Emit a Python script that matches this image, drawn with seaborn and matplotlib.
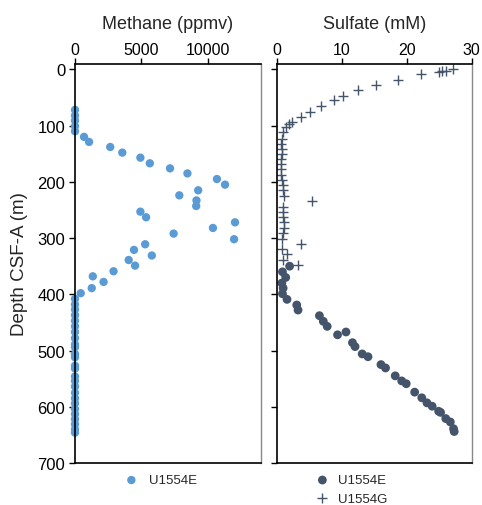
import pandas as pd
import matplotlib
matplotlib.use("Agg")
import matplotlib.pyplot as plt
import seaborn as sns

# methane, hole U1554E
ch4_depth = [72, 82, 91, 101, 110, 120, 129, 138, 148, 157, 167, 176, 185, 195, 205,
             215, 224, 233, 243, 253, 263, 272, 282, 292, 302, 311, 321, 331, 339, 349,
             359, 368, 378, 389, 398,
             408, 418, 427, 437, 447, 457, 467, 478, 489, 494, 506, 512, 527, 532, 546,
             554, 564, 575, 585, 594, 604, 613, 622, 631, 640, 646]
ch4_ppmv = [0, 0, 0, 0, 0, 680, 1060, 2650, 3560, 4920, 5630, 7150, 8460, 10680, 11290,
            9270, 7850, 9140, 9120, 4920, 5350, 12040, 10380, 7420, 11970, 5280, 4440, 5780, 4040, 4520,
            2900, 1340, 2150, 1260, 430,
            0, 0, 0, 0, 0, 0, 0, 0, 0, 0, 0, 0, 0, 0, 0,
            0, 0, 0, 0, 0, 0, 0, 0, 0, 0, 0]

# sulfate, hole U1554E (circles)
so4_e_depth = [350, 360, 370, 380, 389, 399, 409, 419, 428, 438, 448, 457, 467, 472, 486,
               493, 506, 511, 525, 531, 545, 554, 559, 574, 584, 593, 599, 608, 610, 621,
               627, 639, 644]
so4_e_mm = [1.9, 0.8, 1.3, 0.7, 0.9, 0.8, 1.5, 3.0, 3.2, 6.5, 7.1, 7.7, 10.6, 9.3, 11.6,
            12.0, 13.1, 14.0, 16.0, 16.7, 18.2, 19.2, 19.9, 21.2, 22.3, 23.1, 23.9, 24.9, 25.2, 26.0,
            26.7, 27.2, 27.3]

# sulfate, hole U1554G (crosses)
so4_g_depth = [0, 2, 3, 4, 8, 18, 28, 37, 47, 54, 65, 75, 84, 94, 98,
               103, 112, 123, 132, 141, 150, 160, 169, 178, 187, 197, 206, 215, 225, 234,
               244, 254, 263, 272, 282, 291, 301, 310, 319, 328, 339, 348]
so4_g_mm = [27.1, 26.1, 25.4, 25.0, 22.2, 18.6, 15.2, 12.5, 10.2, 8.75, 6.8, 5.1, 3.6, 2.2, 1.8,
            1.4, 0.93, 0.67, 0.57, 0.67, 0.77, 0.57, 0.57, 0.57, 0.62, 0.72, 0.88, 0.93, 1.03, 5.3,
            0.82, 0.82, 0.93, 1.03, 1.08, 0.93, 0.77, 3.7, 0.67, 1.54, 0.82, 3.14]

blue = "#5B9BD5"
slate = "#44546A"

sns.set_style("ticks")
plt.rcParams["font.family"] = ["Liberation Sans", "DejaVu Sans"]

ch4 = pd.DataFrame({"depth": ch4_depth, "ch4": ch4_ppmv})
so4e = pd.DataFrame({"depth": so4_e_depth, "so4": so4_e_mm})
so4g = pd.DataFrame({"depth": so4_g_depth, "so4": so4_g_mm})

fig = plt.figure(figsize=(4.82, 5.06), dpi=100)
ax1 = fig.add_axes([0.1556, 0.083, 0.386, 0.789])
ax2 = fig.add_axes([0.5753, 0.083, 0.4033, 0.789])

sns.scatterplot(data=ch4, x="ch4", y="depth", ax=ax1, color=blue, s=36,
                edgecolor="none", label="U1554E", clip_on=False)
sns.scatterplot(data=so4e, x="so4", y="depth", ax=ax2, color=slate, s=40,
                edgecolor="none", label="U1554E")
sns.scatterplot(data=so4g, x="so4", y="depth", ax=ax2, color=slate, marker="+",
                s=45, linewidth=1.0, label="U1554G")

for ax in (ax1, ax2):
    ax.set_ylim(700, -10)
    ax.set_yticks(range(0, 701, 100))
    ax.xaxis.set_label_position("top")
    ax.xaxis.tick_top()
    ax.tick_params(axis="both", direction="out", length=4, width=1,
                   colors="black", pad=3)
    ax.tick_params(axis="x", labelsize=11.5, pad=1)
    ax.tick_params(axis="y", labelsize=12)
    for side in ("top", "left", "bottom"):
        ax.spines[side].set_color("black")
        ax.spines[side].set_linewidth(1.2)
    ax.spines["right"].set_visible(True)
    ax.spines["right"].set_color("#888888")
    ax.spines["right"].set_linewidth(1.0)

ax1.set_xlim(0, 14000)
ax1.set_xticks([0, 5000, 10000])
ax1.set_xlabel("Methane (ppmv)", fontsize=13, labelpad=10)
ax1.set_ylabel("Depth CSF-A (m)", fontsize=13.5)
ax1.yaxis.set_label_coords(-0.255, 0.5)

ax2.set_xlim(0, 30)
ax2.set_xticks([0, 10, 20, 30])
ax2.set_xlabel("Sulfate (mM)", fontsize=13, labelpad=10)
ax2.set_ylabel("")
ax2.set_yticklabels([])

ax1.legend(loc="upper left", bbox_to_anchor=(0.2342, 0.079), bbox_transform=fig.transFigure,
           frameon=False, fontsize=9.5, handlelength=1.4, handletextpad=0.6, borderpad=0.2)
ax2.legend(loc="upper left", bbox_to_anchor=(0.6305, 0.079), bbox_transform=fig.transFigure,
           frameon=False, fontsize=9.5, handlelength=1.4, handletextpad=0.45, borderpad=0.2,
           labelspacing=0.45)

fig.savefig("out.png", dpi=100)
